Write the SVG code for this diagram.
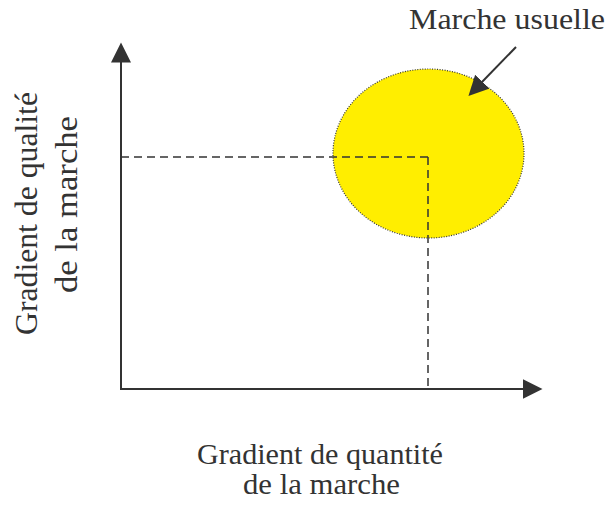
<svg xmlns="http://www.w3.org/2000/svg" width="607" height="506" viewBox="0 0 607 506">
  <style>
    .lbl { font-family: "Liberation Serif", "Times New Roman", serif; fill: #333333; }
    .axis { stroke: #333333; stroke-width: 2; fill: none; }
    .dash { stroke: #333333; stroke-width: 1.5; stroke-dasharray: 8 5; fill: none; }
  </style>
  <defs>
    <marker id="head" markerUnits="userSpaceOnUse" markerWidth="21" markerHeight="21" refX="0.5" refY="10" orient="auto" viewBox="0 0 21 21">
      <path d="M0,0 L20,10 L0,20 Z" fill="#333333"/>
    </marker>
  </defs>
  <rect x="0" y="0" width="607" height="506" fill="#ffffff"/>

  <g id="marche-usuelle">
    <ellipse cx="428.5" cy="153.5" rx="95.5" ry="84.5" fill="#FFEE00" stroke="#333333" stroke-width="1.2" stroke-dasharray="1 1.5"/>
  </g>

  <g id="connectors">
    <line class="dash" x1="121" y1="157" x2="428" y2="157"/>
    <line class="dash" x1="428" y1="157" x2="428" y2="389"/>
    <line class="axis" x1="121" y1="390" x2="121" y2="62" marker-end="url(#head)"/>
    <line class="axis" x1="120" y1="389" x2="523" y2="389" marker-end="url(#head)"/>
    <line class="axis" x1="516" y1="47" x2="482" y2="82" marker-end="url(#head)"/>
  </g>

  <g id="label-marche-usuelle">
    <text class="lbl" x="409" y="29" font-size="30" textLength="196" lengthAdjust="spacingAndGlyphs">Marche usuelle</text>
  </g>
  <g id="label-y">
    <text class="lbl" font-size="32" transform="translate(37,335) rotate(-90)" textLength="243" lengthAdjust="spacingAndGlyphs">Gradient de qualité</text>
    <text class="lbl" font-size="32" transform="translate(77,293) rotate(-90)" textLength="177" lengthAdjust="spacingAndGlyphs">de la marche</text>
  </g>
  <g id="label-x">
    <text class="lbl" x="197" y="464" font-size="30" textLength="246" lengthAdjust="spacingAndGlyphs">Gradient de quantité</text>
    <text class="lbl" x="243" y="494" font-size="30" textLength="157" lengthAdjust="spacingAndGlyphs">de la marche</text>
  </g>
</svg>
